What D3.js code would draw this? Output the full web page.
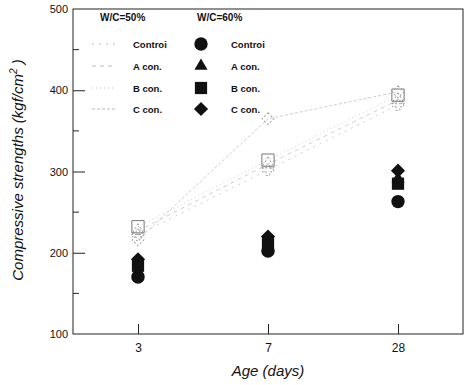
<!DOCTYPE html>
<html>
<head>
<meta charset="utf-8">
<script src="https://cdn.jsdelivr.net/npm/d3@7"></script>
<style>
    body { margin: 0; background: #fff; }
    svg { display: block; font-family: 'Liberation Sans', Arial, sans-serif; }
</style>
</head>
<body>
<div id="chart"></div>
<script>
// DATA
const ages = ['3', '7', '28'];
const seriesNames = ['Control', 'A con.', 'B con.', 'C con.'];
const wc50Control = [222, 302, 382];
const wc50A = [227, 309, 388];
const wc50B = [232, 314, 394];
const wc50C = [216, 365, 398];
const wc60Control = [170, 202, 263];
const wc60A = [177, 207, 291];
const wc60B = [184, 212, 285];
const wc60C = [192, 220, 301];
const yTicks = [100, 200, 300, 400, 500];
const yMinorTicks = [150, 250, 350, 450];

// Colors
const blackColor = '#111';
const faintColor = '#cfcfcf';
const openColor = '#a0a0a0';

const margin = { top: 9, right: 7, bottom: 51, left: 73 };
const totalWidth = 470;
const totalHeight = 385;
const width = totalWidth - margin.left - margin.right;
const height = totalHeight - margin.top - margin.bottom;

const svg = d3.select('#chart')
    .append('svg')
    .attr('width', totalWidth)
    .attr('height', totalHeight);

const g = svg.append('g')
    .attr('transform', 'translate(' + margin.left + ',' + margin.top + ')');

const x = d3.scalePoint()
    .domain(ages)
    .range([0, width])
    .padding(0.5);

const y = d3.scaleLinear()
    .domain([100, 500])
    .range([height, 0]);

// Frame
g.append('rect')
    .attr('width', width)
    .attr('height', height)
    .attr('fill', 'none')
    .attr('stroke', '#222')
    .attr('stroke-width', 1);

// Y axis (ticks pointing inwards)
const yAxis = g.append('g')
    .call(d3.axisRight(y).tickValues(yTicks).tickSize(12).tickFormat(d3.format('d')));
yAxis.select('.domain').remove();
yAxis.selectAll('line').attr('stroke', '#222');
yAxis.selectAll('text')
    .attr('x', -5)
    .attr('text-anchor', 'end')
    .style('font-size', '11px')
    .attr('fill', blackColor);
yAxis.selectAll('.tick')
    .filter(d => d === 100 || d === 500)
    .select('line').remove();

g.append('g')
    .selectAll('line')
    .data(yMinorTicks)
    .enter()
    .append('line')
    .attr('x1', 0)
    .attr('x2', 6)
    .attr('y1', d => y(d))
    .attr('y2', d => y(d))
    .attr('stroke', '#222');

// X axis (ticks pointing upwards)
const xAxis = g.append('g')
    .attr('transform', 'translate(0,' + height + ')')
    .call(d3.axisTop(x).tickSize(10));
xAxis.select('.domain').remove();
xAxis.selectAll('line').attr('stroke', '#222');
xAxis.selectAll('text')
    .attr('y', 18)
    .attr('dy', 0)
    .style('font-size', '12px')
    .attr('fill', blackColor);

// Axis titles
svg.append('text')
    .attr('x', margin.left + width / 2)
    .attr('y', 376)
    .attr('text-anchor', 'middle')
    .style('font-size', '15px')
    .style('font-style', 'italic')
    .attr('fill', blackColor)
    .text('Age (days)');

svg.append('text')
    .attr('transform', 'translate(23,' + 170 + ') rotate(-90)')
    .attr('text-anchor', 'middle')
    .style('font-size', '15px')
    .style('font-style', 'italic')
    .attr('fill', blackColor)
    .html('Compressive strengths (kgf/cm<tspan dy="-6" font-size="10px">2</tspan><tspan dy="6"> )</tspan>');

// Marker shapes (diamond = square turned 45 degrees)
const symbols50 = [d3.symbolCross, d3.symbolTriangle, d3.symbolSquare, d3.symbolSquare];
const symbols60 = [d3.symbolCircle, d3.symbolTriangle, d3.symbolSquare, d3.symbolSquare];
const rotate = [0, 0, 0, 45];
const sizes60 = [140, 75, 150, 100];
const dashes50 = ['2,5', '4,4', '1,3', '3,2'];

const data50 = [wc50Control, wc50A, wc50B, wc50C];
const data60 = [wc60Control, wc60A, wc60B, wc60C];

const lineGen = d3.line()
    .x((d, i) => x(ages[i]))
    .y(d => y(d));

// W/C=50% faint dashed lines with open markers
data50.forEach(function(values, s) {
    g.append('path')
        .attr('d', lineGen(values))
        .attr('fill', 'none')
        .attr('stroke', faintColor)
        .attr('stroke-width', 1)
        .attr('stroke-dasharray', dashes50[s]);

    g.selectAll('.m50_' + s)
        .data(values)
        .enter()
        .append('path')
        .attr('class', 'm50_' + s)
        .attr('transform', (d, i) => 'translate(' + x(ages[i]) + ',' + y(d) + ') rotate(' + rotate[s] + ')')
        .attr('d', d3.symbol().type(symbols50[s]).size(s === 2 ? 150 : 70))
        .attr('fill', 'none')
        .attr('stroke', s === 2 ? '#777' : openColor)
        .attr('stroke-width', 1)
        .attr('stroke-dasharray', s === 2 ? null : '2,2');
});

// W/C=60% filled markers (draw C, A, B, Control order so circles stay visible)
[3, 1, 2, 0].forEach(function(s) {
    g.selectAll('.m60_' + s)
        .data(data60[s])
        .enter()
        .append('path')
        .attr('class', 'm60_' + s)
        .attr('transform', (d, i) => 'translate(' + x(ages[i]) + ',' + y(d) + ') rotate(' + rotate[s] + ')')
        .attr('d', d3.symbol().type(symbols60[s]).size(sizes60[s]))
        .attr('fill', blackColor);
});

// LEGEND
const legend = svg.append('g');
const rowY = [44, 66, 88, 109];

legend.append('text')
    .attr('x', 100)
    .attr('y', 21)
    .style('font-size', '10px')
    .style('font-weight', 'bold')
    .attr('fill', blackColor)
    .text('W/C=50%');

legend.append('text')
    .attr('x', 197)
    .attr('y', 21)
    .style('font-size', '10px')
    .style('font-weight', 'bold')
    .attr('fill', blackColor)
    .text('W/C=60%');

seriesNames.forEach(function(name, s) {
    legend.append('line')
        .attr('x1', 92)
        .attr('x2', 116)
        .attr('y1', rowY[s])
        .attr('y2', rowY[s])
        .attr('stroke', '#bbb')
        .attr('stroke-dasharray', dashes50[s]);

    legend.append('text')
        .attr('x', 133)
        .attr('y', rowY[s] + 3.5)
        .style('font-size', '9.5px')
        .style('font-weight', 'bold')
        .attr('fill', blackColor)
        .text(s === 0 ? 'Controi' : name);

    legend.append('path')
        .attr('transform', 'translate(201,' + rowY[s] + ') rotate(' + rotate[s] + ')')
        .attr('d', d3.symbol().type(symbols60[s]).size(sizes60[s]))
        .attr('fill', blackColor);

    legend.append('text')
        .attr('x', 231)
        .attr('y', rowY[s] + 3.5)
        .style('font-size', '9.5px')
        .style('font-weight', 'bold')
        .attr('fill', blackColor)
        .text(s === 0 ? 'Controi' : name);
});
</script>
</body>
</html>
